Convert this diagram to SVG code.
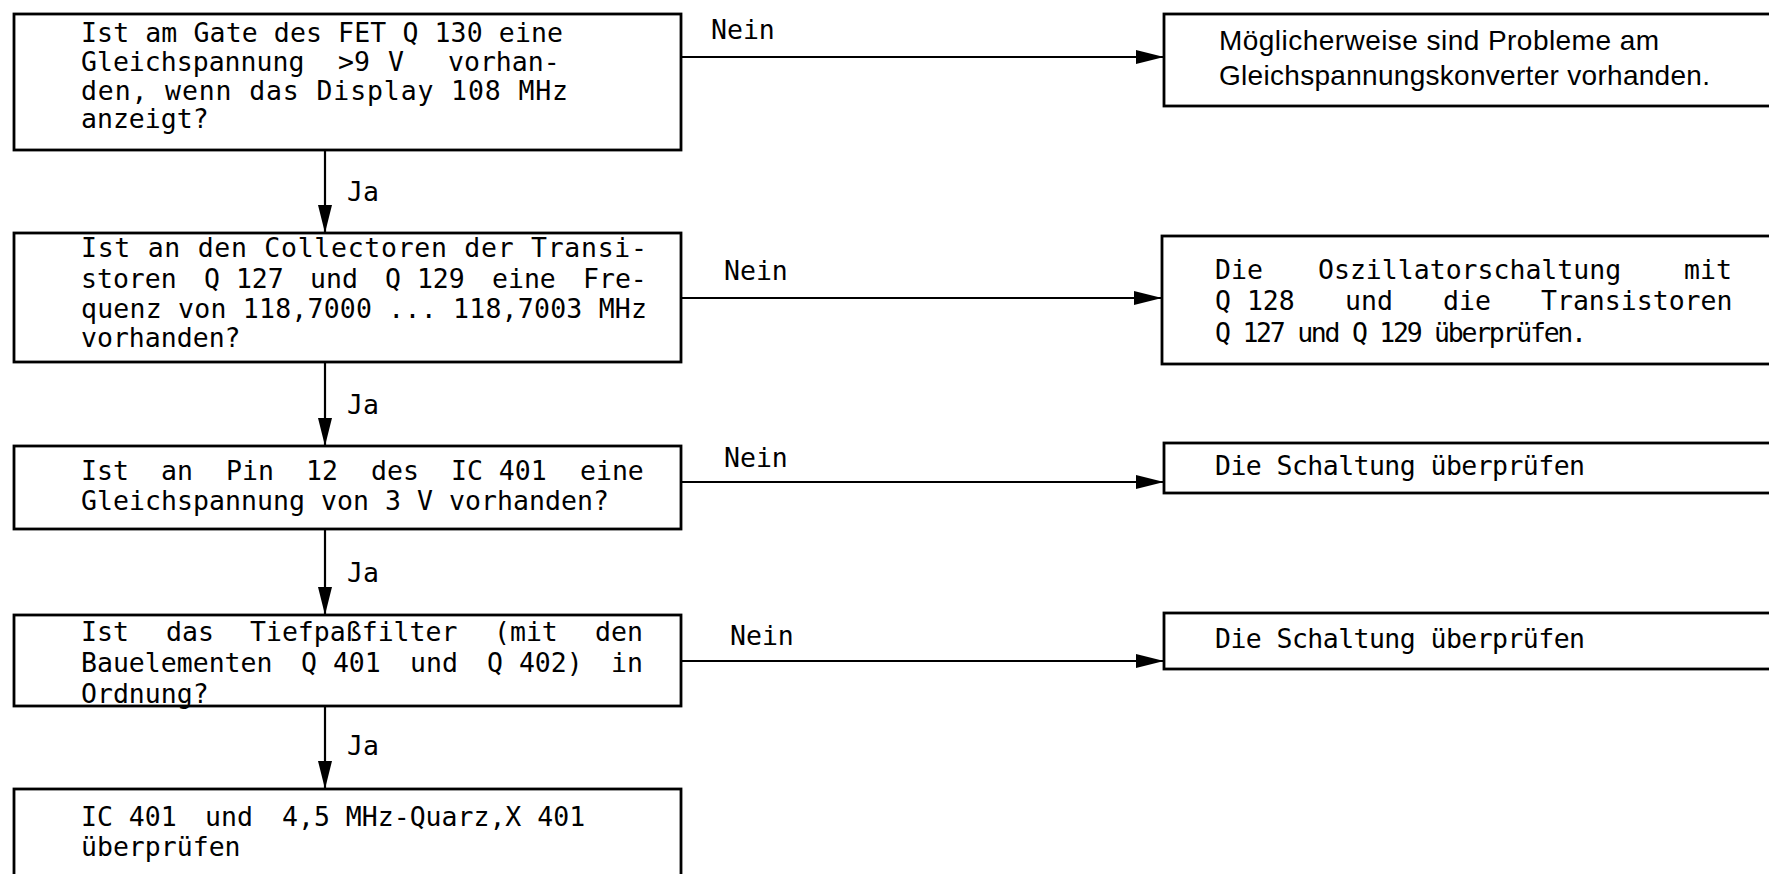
<svg xmlns="http://www.w3.org/2000/svg" width="1769" height="874" viewBox="0 0 1769 874">
<style>
.box{fill:#fff;stroke:#000;stroke-width:2.8}
.t{font-family:"DejaVu Sans Mono","Liberation Mono",monospace;font-size:26.5px;fill:#000;white-space:pre}
.h{font-family:"Liberation Sans",Arial,sans-serif;font-size:28px;fill:#000}
.c{stroke:#000;stroke-width:2.2;fill:none}
</style>
<defs>
<marker id="ah" markerUnits="userSpaceOnUse" markerWidth="30" markerHeight="16" refX="28" refY="7" orient="auto">
<path d="M0,0 L28,7 L0,14 Z" fill="#000"/>
</marker>
</defs>
<rect width="1769" height="874" fill="#fff"/>
<g id="connectors">
<line class="c" x1="325" y1="150" x2="325" y2="233" marker-end="url(#ah)"/>
<line class="c" x1="325" y1="362" x2="325" y2="446" marker-end="url(#ah)"/>
<line class="c" x1="325" y1="529" x2="325" y2="615" marker-end="url(#ah)"/>
<line class="c" x1="325" y1="706" x2="325" y2="789" marker-end="url(#ah)"/>
<line class="c" x1="681" y1="57" x2="1164" y2="57" marker-end="url(#ah)"/>
<line class="c" x1="681" y1="298" x2="1162" y2="298" marker-end="url(#ah)"/>
<line class="c" x1="681" y1="482" x2="1164" y2="482" marker-end="url(#ah)"/>
<line class="c" x1="681" y1="661" x2="1164" y2="661" marker-end="url(#ah)"/>
<text class="t" x="347" y="201">Ja</text>
<text class="t" x="347" y="414">Ja</text>
<text class="t" x="347" y="582">Ja</text>
<text class="t" x="347" y="755">Ja</text>
<text class="t" x="711" y="39">Nein</text>
<text class="t" x="724" y="280">Nein</text>
<text class="t" x="724" y="467">Nein</text>
<text class="t" x="730" y="645">Nein</text>
</g>
<g id="q1">
<rect class="box" x="14" y="14" width="667" height="136"/>
<text class="t" x="81" y="42" textLength="482" lengthAdjust="spacing">Ist am Gate des FET Q 130 eine</text>
<text class="t" y="71"><tspan x="81">Gleichspannung</tspan><tspan x="338">&gt;9</tspan><tspan x="388">V</tspan><tspan x="448">vorhan-</tspan></text>
<text class="t" x="81" y="100" textLength="487" lengthAdjust="spacing">den, wenn das Display 108 MHz</text>
<text class="t" x="81" y="128">anzeigt?</text>
</g>
<g id="r1">
<rect class="box" x="1164" y="14" width="700" height="92"/>
<text class="h" x="1219" y="50" textLength="440" lengthAdjust="spacing">Möglicherweise sind Probleme am</text>
<text class="h" x="1219" y="85" textLength="491" lengthAdjust="spacing">Gleichspannungskonverter vorhanden.</text>
</g>
<g id="q2">
<rect class="box" x="14" y="233" width="667" height="129"/>
<text class="t" x="81" y="257" textLength="566" lengthAdjust="spacing">Ist an den Collectoren der Transi-</text>
<text class="t" y="288"><tspan x="81">storen</tspan><tspan x="204">Q 127</tspan><tspan x="310">und</tspan><tspan x="385">Q 129</tspan><tspan x="492">eine</tspan><tspan x="583">Fre-</tspan></text>
<text class="t" x="81" y="318" textLength="566" lengthAdjust="spacing">quenz von 118,7000 ... 118,7003 MHz</text>
<text class="t" x="81" y="347">vorhanden?</text>
</g>
<g id="r2">
<rect class="box" x="1162" y="236" width="700" height="128"/>
<text class="t" y="279"><tspan x="1215">Die</tspan><tspan x="1318">Oszillatorschaltung</tspan><tspan x="1684">mit</tspan></text>
<text class="t" y="310"><tspan x="1215">Q 128</tspan><tspan x="1345">und</tspan><tspan x="1443">die</tspan><tspan x="1541">Transistoren</tspan></text>
<text class="t" x="1215" y="342" textLength="372" lengthAdjust="spacing">Q 127 und Q 129 überprüfen.</text>
</g>
<g id="q3">
<rect class="box" x="14" y="446" width="667" height="83"/>
<text class="t" y="480"><tspan x="81">Ist</tspan><tspan x="161">an</tspan><tspan x="226">Pin</tspan><tspan x="306">12</tspan><tspan x="371">des</tspan><tspan x="451">IC 401</tspan><tspan x="580">eine</tspan></text>
<text class="t" x="81" y="510" textLength="528" lengthAdjust="spacing">Gleichspannung von 3 V vorhanden?</text>
</g>
<g id="r3">
<rect class="box" x="1164" y="443" width="700" height="50"/>
<text class="t" x="1215" y="475" textLength="370" lengthAdjust="spacing">Die Schaltung überprüfen</text>
</g>
<g id="q4">
<rect class="box" x="14" y="615" width="667" height="91"/>
<text class="t" y="641"><tspan x="81">Ist</tspan><tspan x="166">das</tspan><tspan x="250">Tiefpaßfilter</tspan><tspan x="494">(mit</tspan><tspan x="595">den</tspan></text>
<text class="t" y="672"><tspan x="81">Bauelementen</tspan><tspan x="301">Q 401</tspan><tspan x="410">und</tspan><tspan x="487">Q 402)</tspan><tspan x="611">in</tspan></text>
<text class="t" x="81" y="703">Ordnung?</text>
</g>
<g id="r4">
<rect class="box" x="1164" y="613" width="700" height="56"/>
<text class="t" x="1215" y="648" textLength="370" lengthAdjust="spacing">Die Schaltung überprüfen</text>
</g>
<g id="q5">
<rect class="box" x="14" y="789" width="667" height="120"/>
<text class="t" y="826"><tspan x="81">IC 401</tspan><tspan x="205">und</tspan><tspan x="282">4,5 MHz-Quarz,X 401</tspan></text>
<text class="t" x="81" y="856">überprüfen</text>
</g>
</svg>
